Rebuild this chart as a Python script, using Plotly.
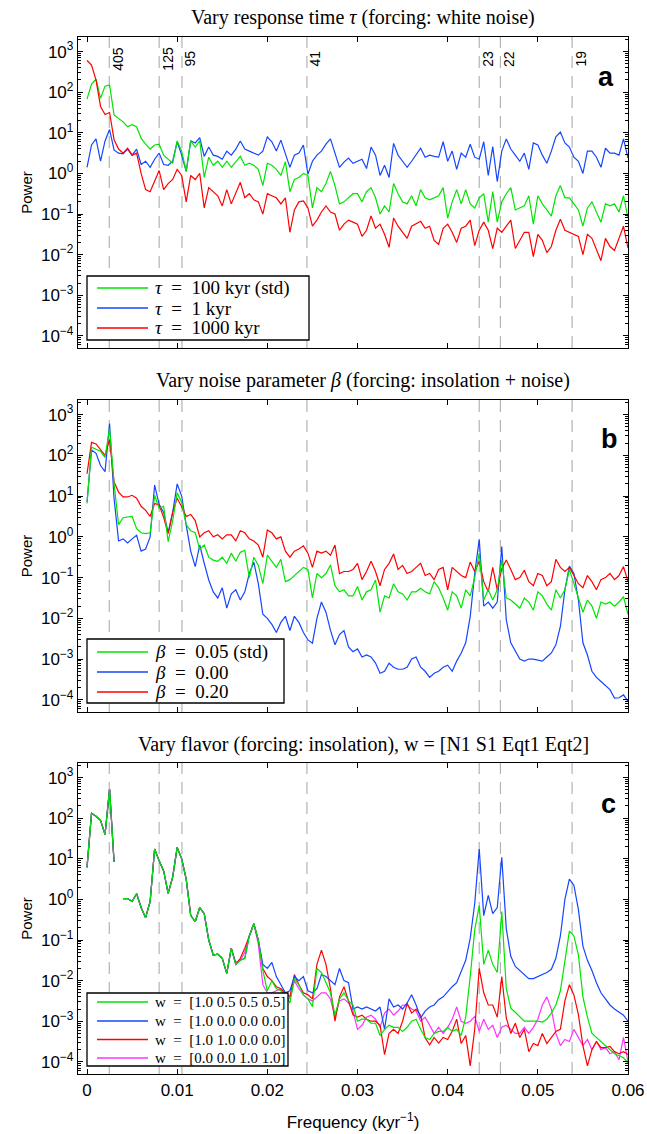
import plotly.graph_objects as go

# ---------------- data (log10 of power) ----------------
FREQ = [
    0.0000, 0.0005, 0.0010, 0.0015, 0.0020, 0.0025, 0.0030, 0.0035, 0.0040, 0.0045,
    0.0050, 0.0055, 0.0060, 0.0065, 0.0070, 0.0075, 0.0080, 0.0085, 0.0090, 0.0095,
    0.0100, 0.0105, 0.0110, 0.0115, 0.0120, 0.0125, 0.0130, 0.0135, 0.0140, 0.0145,
    0.0150, 0.0155, 0.0160, 0.0165, 0.0170, 0.0175, 0.0180, 0.0185, 0.0190, 0.0195,
    0.0200, 0.0205, 0.0210, 0.0215, 0.0220, 0.0225, 0.0230, 0.0235, 0.0240, 0.0245,
    0.0250, 0.0255, 0.0260, 0.0265, 0.0270, 0.0275, 0.0280, 0.0285, 0.0290, 0.0295,
    0.0300, 0.0305, 0.0310, 0.0315, 0.0320, 0.0325, 0.0330, 0.0335, 0.0340, 0.0345,
    0.0350, 0.0355, 0.0360, 0.0365, 0.0370, 0.0375, 0.0380, 0.0385, 0.0390, 0.0395,
    0.0400, 0.0405, 0.0410, 0.0415, 0.0420, 0.0425, 0.0430, 0.0435, 0.0440, 0.0445,
    0.0450, 0.0455, 0.0460, 0.0465, 0.0470, 0.0475, 0.0480, 0.0485, 0.0490, 0.0495,
    0.0500, 0.0505, 0.0510, 0.0515, 0.0520, 0.0525, 0.0530, 0.0535, 0.0540, 0.0545,
    0.0550, 0.0555, 0.0560, 0.0565, 0.0570, 0.0575, 0.0580, 0.0585, 0.0590, 0.0595,
    0.0600,
]

# Panel a: vary response time tau (forcing: white noise)
LOG_A_TAU100 = [
    1.83, 2.2, 2.32, 1.85, 2.15, 2.18, 1.44, 1.36, 1.27, 1.15,
    1.2, 1.15, 0.87, 0.72, 0.6, 0.7, 0.72, 0.45, 0.35, 0.25,
    0.8, 0.55, 0.05, 0.8, 0.65, 0.8, -0.1, 0.4, 0.2, 0.3,
    0.15, 0.3, 0.15, 0.3, 0.42, 0.2, 0.25, 0.2, 0.1, -0.3,
    0.25, 0.2, 0.1, -0.05, 0.29, -0.45, -0.15, -0.1, 0.0, -0.05,
    -0.85, -0.35, -0.45, -0.25, 0.05, -0.3, -0.75, -0.7, -0.6, -0.5,
    -0.5, -0.7, -0.45, -0.35, -0.6, -1.0, -0.8, -0.95, -0.25, -0.5,
    -0.7, -0.75, -0.55, -0.8, -0.4, -0.6, -0.65, -0.6, -0.55, -0.35,
    -1.1, -0.7, -0.4, -0.75, -0.4, -0.75, -0.85, -0.6, -0.5, -1.2,
    -0.45, -1.2, -0.7, -0.5, -0.35, -0.9, -0.85, -0.8, -0.55, -1.25,
    -0.55, -0.75, -0.9, -1.05, -0.55, -0.3, -0.6, -0.6, -0.75, -0.9,
    -1.3, -0.85, -0.7, -0.95, -1.2, -0.75, -0.8, -0.75, -0.95, -0.55,
    -1.1,
]
LOG_A_TAU1 = [
    0.15, 0.7, 0.85, 0.3, 0.8, 1.08, 0.58, 0.5, 0.48, 0.6,
    0.45, 0.6, 0.22, 0.3, 0.15, 0.35, 0.5, 0.22, 0.2, 0.3,
    0.78, 0.45, 0.05, 0.8, 0.75, 0.88, 0.42, 0.65, 0.45, 0.42,
    0.35, 0.55, 0.45, 0.6, 0.8, 0.6, 0.55, 0.5, 0.45, 0.55,
    0.9, 0.78, 0.55, 0.82, 0.5, 0.15, 0.45, 0.5, 0.7, -0.02,
    0.3, 0.45, 0.55, 0.72, 0.85, 0.5, 0.15, 0.28, 0.38, 0.25,
    0.3, 0.35, 0.12, 0.65, 0.45, -0.05, 0.2, -0.1, 0.74, 0.45,
    0.3, 0.15, 0.3, 0.45, 0.62, 0.4, 0.45, 0.42, 0.4, 0.78,
    0.3, 0.55, 0.1, 0.5, 0.4, 0.72, 0.4, 0.35, 0.78, -0.05,
    0.66, -0.2, 0.55, 0.85, 0.6, 0.45, 0.3, 0.5, 0.1, 0.75,
    0.7, 0.45, 0.25, 0.55, 0.9, 1.02, 0.75, 0.65, 0.4, 0.3,
    0.0, 0.55, 0.55, 0.4, 0.15, 0.62, 0.5, 0.5, 0.45, 0.85,
    0.38,
]
LOG_A_TAU1000 = [
    2.78, 2.67, 2.3, 1.65, 1.45, 1.5, 0.83, 0.6, 0.5, 0.62,
    0.45, 0.5, 0.0, -0.4, -0.45, -0.2, 0.07, -0.4, -0.25, -0.15,
    0.1, -0.05, -0.7, -0.05, -0.15, 0.0, -0.85, -0.35, -0.45, -0.55,
    -0.8, -0.4, -0.75, -0.5, -0.22, -0.6, -0.5, -0.65, -0.7, -1.0,
    -0.5, -0.55, -0.6, -0.75, -0.6, -1.45, -0.9, -0.7, -0.68, -0.85,
    -1.3, -1.15, -0.95, -0.8, -0.95, -1.0, -1.4, -1.25, -1.15, -1.2,
    -1.25, -1.55, -1.4, -1.05, -1.35, -1.25, -1.5, -1.82, -1.1, -1.3,
    -1.45, -1.6, -1.3, -1.25, -1.18, -1.35, -1.3, -1.65, -1.75, -1.35,
    -1.25, -1.45, -1.7, -1.35, -1.3, -1.15, -1.78, -1.4, -1.2, -1.4,
    -1.85, -1.35, -1.45, -1.3, -1.15, -1.85, -1.65, -1.45, -1.45, -2.05,
    -1.5, -1.65, -1.95, -1.8, -1.4, -1.13, -1.4, -1.45, -1.5, -1.55,
    -2.0, -1.5, -1.6, -1.9, -2.15, -1.6, -1.8, -1.9, -1.6, -1.3,
    -1.84,
]

# Panel b: vary noise parameter beta (forcing: insolation + noise)
LOG_B_BETA005 = [
    0.82, 2.2, 2.15, 2.1, 1.95, 2.66, 1.31, 0.3, 0.47, 0.48,
    0.5, 0.2, 0.1, 0.08, 0.1, 1.02, 0.7, 0.75, -0.12, 0.4,
    1.08, 0.85, 0.3, 0.15, 0.1, -0.3, -0.2, -0.5, -0.57, -0.6,
    -0.5, -0.65, -0.4, -0.6, -0.38, -0.33, -1.0, -0.5, -0.7, -1.15,
    -0.45, -0.6, -0.75, -0.55, -1.1, -1.05, -0.95, -0.85, -0.75, -0.8,
    -1.5, -0.9, -1.0, -0.9, -0.69, -1.2, -1.35, -1.3, -1.45, -1.45,
    -1.22, -1.55, -1.35, -1.3, -1.06, -1.85, -1.45, -1.5, -1.15, -1.35,
    -1.4, -1.55, -1.35, -1.35, -1.26, -1.35, -1.4, -1.1, -1.25, -1.5,
    -1.8, -1.35, -1.45, -1.75, -1.3, -1.45, -1.0, -0.4, -1.55, -1.3,
    -1.55, -1.3, -0.57, -1.5, -1.55, -1.65, -1.75, -1.5, -1.6, -1.8,
    -1.35, -1.45, -1.65, -1.8, -1.3, -1.5, -1.3, -0.8, -1.15, -1.5,
    -1.85, -1.55, -1.7, -2.0, -1.6, -1.65, -1.6, -1.7, -1.6, -1.47,
    -1.9,
]
LOG_B_BETA000 = [
    0.86, 2.13, 2.05, 1.75, 1.6, 2.78, 0.94, -0.1, -0.05, -0.15,
    -0.05, 0.04, -0.35, -0.3, 0.0, 1.27, 0.8, 0.6, 0.1, 0.6,
    1.3, 1.0, 0.29, -0.35, -0.73, -0.2, -0.65, -1.06, -1.35, -1.5,
    -1.25, -1.75, -1.4, -1.3, -1.55, -1.35, -0.9, -0.62, -1.15, -1.9,
    -2.0, -2.15, -2.35, -2.1, -1.95, -2.3, -1.95, -2.1, -2.35, -2.53,
    -2.61, -2.0, -1.6, -1.85, -2.29, -2.65, -2.4, -2.3, -2.7, -2.82,
    -2.75, -2.95, -2.9, -2.95, -3.1, -3.35, -3.3, -3.1, -3.2, -3.25,
    -3.25, -3.2, -3.0, -2.95, -3.2, -3.3, -3.45, -3.35, -3.3, -3.2,
    -3.15, -3.3, -3.05, -2.85, -2.6, -1.96, -0.9, -0.06, -1.7, -1.6,
    -1.75, -1.6, -0.24, -2.04, -2.6, -2.8, -3.0, -3.05, -3.0, -3.0,
    -3.02, -3.05, -2.95, -2.85, -2.65, -2.2, -1.3, -0.72, -0.9, -1.55,
    -2.6, -2.9, -3.3, -3.45, -3.55, -3.65, -3.75, -3.96, -3.95, -3.88,
    -4.04,
]
LOG_B_BETA020 = [
    1.55, 2.32, 2.28, 2.15, 2.0, 2.39, 1.35, 1.1, 0.98, 0.98,
    1.02, 0.95, 0.75, 0.65, 0.5, 0.82, 0.78, 0.48, 0.08, 0.6,
    0.95, 0.74, 0.5, 0.55, 0.4, 0.0, 0.1, 0.15, 0.0, 0.05,
    -0.05, 0.05, 0.05, -0.1, 0.15, 0.1, -0.05, -0.1, -0.2, -0.5,
    0.17, 0.1, -0.05, 0.0, -0.35, -0.5, -0.35, -0.3, -0.22, -0.4,
    -0.75, -0.35, -0.4, -0.35, -0.45, -0.2, -0.9, -0.85, -0.85, -0.8,
    -0.65, -1.05, -0.85, -0.6, -0.85, -1.2, -0.8, -0.65, -0.42, -0.8,
    -0.7, -0.9, -0.85, -0.75, -0.65, -0.95, -0.9, -1.05, -0.8, -0.75,
    -1.3, -0.75, -0.85, -0.95, -1.0, -0.62, -0.85, -0.6, -1.1, -1.35,
    -0.75, -1.3, -0.78, -0.57, -0.8, -1.05, -1.0, -0.82, -1.1, -1.2,
    -0.9, -0.95, -1.2, -1.1, -0.55, -0.75, -0.85, -0.75, -0.95, -1.15,
    -1.25, -0.95, -1.1, -1.3, -1.05, -1.0, -0.9, -1.05, -0.95, -0.73,
    -1.1,
]

# Panel c: vary flavor (forcing: insolation); all four coincide below 0.0165
LOG_C_COMMON_LOW = [
    0.79, 2.12, 2.05, 1.95, 1.6, 2.72, 0.92, None, 0.02, 0.02,
    -0.05, 0.14, -0.2, -0.45, -0.05, 1.24, 0.95, 0.7, 0.15, 0.55,
    1.28, 1.0, 0.5, -0.39, -0.55, -0.2, -0.35, -1.0, -1.37, -1.35,
    -1.45, -1.82, -1.2,
]
LOG_C_W_STD_HIGH = [
    -1.6, -1.5, -1.45, -0.9, -0.6, -1.0, -1.75,
    -2.25, -2.0, -2.2, -2.25, -2.35, -2.55, -1.95, -2.1, -2.35, -2.45,
    -2.64, -1.7, -1.8, -2.05, -2.3, -2.85, -2.45, -2.3, -2.5, -2.6,
    -3.0, -2.95, -2.95, -3.05, -3.05, -3.35, -3.2, -3.1, -3.15, -3.15,
    -3.25, -3.15, -3.0, -2.95, -3.2, -3.4, -3.45, -3.3, -3.25, -3.25,
    -3.15, -3.25, -3.2, -3.35, -2.9, -1.9, -0.75, -0.15, -1.6, -1.25,
    -1.6, -1.8, -0.3, -2.2, -2.68, -2.78, -2.9, -3.0, -3.0, -3.0,
    -3.0, -3.02, -2.95, -2.8, -2.6, -2.25, -1.5, -0.78, -0.9, -1.37,
    -2.4, -2.9, -3.3, -3.4, -3.5, -3.6, -3.72, -3.8, -3.85, -3.9,
    -4.03,
]
LOG_C_W_N1_HIGH = [
    -1.6, -1.5, -1.45, -0.9, -0.6, -1.0, -1.6,
    -1.7, -1.55, -1.9, -2.1, -2.3, -2.25, -1.9, -2.0, -1.9, -2.25,
    -2.3, -2.2, -1.85, -1.9, -2.0, -2.1, -1.7, -2.0, -2.05, -2.7,
    -2.65, -2.7, -2.65, -2.7, -2.75, -2.65, -3.2, -2.45, -2.65, -2.6,
    -2.7, -2.55, -2.35, -2.6, -2.92, -2.75, -2.65, -2.6, -2.47, -2.4,
    -2.27, -2.15, -2.05, -1.75, -1.5, -0.96, -0.1, 1.24, -0.4, 0.1,
    -0.35, -0.2, 1.04, -0.72, -1.4, -1.65, -1.75, -1.85, -1.95, -1.95,
    -1.9, -1.85, -1.8, -1.72, -1.45, -0.9, 0.0, 0.5, 0.35, -0.25,
    -1.15, -1.5, -1.75, -2.05, -2.3, -2.45, -2.6, -2.7, -2.78, -2.85,
    -3.0,
]
LOG_C_W_N1S1_HIGH = [
    -1.6, -1.45, -1.2, -0.9, -0.6, -1.0, -1.7,
    -1.9, -2.0, -2.15, -2.2, -2.3, -2.4, -1.85, -2.1, -2.3, -2.35,
    -2.45, -1.6, -1.25, -1.6, -2.2, -3.0, -2.4, -2.15, -2.5, -2.84,
    -2.9, -2.85, -2.95, -3.0, -3.0, -3.1, -3.82, -3.3, -3.2, -3.3,
    -3.0, -2.56, -2.8, -2.7, -2.85, -3.41, -3.58, -3.4, -3.54, -3.4,
    -3.45, -3.25, -2.95, -3.55, -3.35, -4.1, -3.2, -1.7, -2.3, -2.6,
    -2.6, -2.9, -1.9, -2.92, -3.3, -3.05, -3.4, -3.2, -3.75, -3.55,
    -3.6, -3.3, -3.55, -3.4, -3.25, -3.2, -2.5, -2.1, -2.35, -2.84,
    -3.6, -4.1, -3.7, -3.5, -3.65, -3.65, -3.62, -3.75, -3.8, -3.75,
    -3.82,
]
LOG_C_W_EQT_HIGH = [
    -1.55, -1.5, -1.3, -0.9, -0.6, -1.1, -2.1,
    -2.3, -2.3, -2.25, -2.2, -2.4, -2.45, -2.0, -2.2, -2.35, -2.45,
    -2.5, -2.4, -2.3, -2.3, -2.45, -2.9, -2.5, -2.45, -2.55, -2.75,
    -3.2, -3.1, -2.9, -2.85, -2.95, -3.15, -2.8, -2.7, -2.85, -2.75,
    -2.6, -2.6, -2.7, -2.75, -3.0, -2.9, -3.1, -3.3, -3.15, -3.3,
    -3.15, -2.95, -2.65, -3.0, -3.05, -3.0, -2.88, -3.25, -2.95, -3.2,
    -3.1, -3.4, -3.15, -3.1, -3.2, -3.3, -3.3, -3.15, -3.3, -3.15,
    -2.95, -2.6, -2.4, -2.7, -3.3, -3.6, -3.45, -3.5, -3.2, -3.4,
    -3.6, -3.45, -3.7, -3.5, -3.7, -3.65, -3.8, -3.75, -3.95, -3.4,
    -4.0,
]

PERIOD_LABELS = ["405", "125", "95", "41", "23", "22", "19"]
PERIOD_FREQ = [0.00247, 0.0080, 0.01053, 0.02439, 0.04350, 0.04585, 0.05380]

Y_TICK_EXP = [-4, -3, -2, -1, 0, 1, 2, 3]

GREEN, BLUE, RED, MAGENTA = "#00e400", "#1446ff", "#ff0000", "#ff33ff"

NAMES_A = ["<i>τ</i>\u2002=\u2002100 kyr (std)", "<i>τ</i>\u2002=\u20021 kyr",
           "<i>τ</i>\u2002=\u20021000 kyr"]
NAMES_B = ["<i>β</i>\u2002=\u20020.05 (std)", "<i>β</i>\u2002=\u20020.00",
           "<i>β</i>\u2002=\u20020.20"]
NAMES_C = ["w\u2002=\u2002[1.0 0.5 0.5 0.5]", "w\u2002=\u2002[1.0 0.0 0.0 0.0]",
           "w\u2002=\u2002[1.0 1.0 0.0 0.0]", "w\u2002=\u2002[0.0 0.0 1.0 1.0]"]

series_c = {
    "std": LOG_C_COMMON_LOW + LOG_C_W_STD_HIGH,
    "n1": LOG_C_COMMON_LOW + LOG_C_W_N1_HIGH,
    "n1s1": LOG_C_COMMON_LOW + LOG_C_W_N1S1_HIGH,
    "eqt": LOG_C_COMMON_LOW + LOG_C_W_EQT_HIGH,
}
for arr in [LOG_A_TAU100, LOG_A_TAU1, LOG_A_TAU1000, LOG_B_BETA005, LOG_B_BETA000,
            LOG_B_BETA020] + list(series_c.values()):
    assert len(arr) == len(FREQ), len(arr)


def power(logs):
    return [None if v is None else 10 ** v for v in logs]


# ---------------- geometry (pixels of the 647x1134 page) ----------------
W, H = 647, 1134
ML, MR, MT, MB = 78, 19, 37, 60
PW, PH = W - ML - MR, H - MT - MB


def px(x):
    return (x - ML) / PW


def py(y):
    return (H - MB - y) / PH


PANELS = [  # (top px, bottom px)
    (37, 348), (400, 712), (763, 1074)]

fig = go.Figure()

# draw order (last on top)
panel_traces = [
    [(LOG_A_TAU1, NAMES_A[1], BLUE), (LOG_A_TAU100, NAMES_A[0], GREEN),
     (LOG_A_TAU1000, NAMES_A[2], RED)],
    [(LOG_B_BETA000, NAMES_B[1], BLUE), (LOG_B_BETA020, NAMES_B[2], RED),
     (LOG_B_BETA005, NAMES_B[0], GREEN)],
    [(series_c["eqt"], NAMES_C[3], MAGENTA), (series_c["n1s1"], NAMES_C[2], RED),
     (series_c["n1"], NAMES_C[1], BLUE), (series_c["std"], NAMES_C[0], GREEN)],
]
for i, traces in enumerate(panel_traces):
    xa = "x" if i == 0 else f"x{i+1}"
    ya = "y" if i == 0 else f"y{i+1}"
    for logs, name, col in traces:
        fig.add_trace(go.Scatter(x=FREQ, y=power(logs), mode="lines", name=name,
                                 line=dict(color=col, width=1.2),
                                 xaxis=xa, yaxis=ya, showlegend=False,
                                 connectgaps=False))

axis_font = dict(family="Liberation Sans, Arial, sans-serif", size=16, color="black")
minor_vals = [m * 10 ** e for e in range(-5, 4) for m in range(2, 10)]
layout = dict(
    width=W, height=H, margin=dict(l=ML, r=MR, t=MT, b=MB, autoexpand=False),
    paper_bgcolor="white", plot_bgcolor="white", showlegend=False,
    font=axis_font,
)
for i, (top, bot) in enumerate(PANELS):
    sfx = "" if i == 0 else str(i + 1)
    layout["xaxis" + sfx] = dict(
        domain=[0, 1], anchor="y" + sfx, range=[-0.001, 0.06], tick0=0, dtick=0.01,
        ticks="inside", ticklen=5, tickwidth=1, tickcolor="black",
        showline=True, linecolor="black", linewidth=1.3, mirror="allticks",
        showgrid=False, zeroline=False, showticklabels=(i == 2),
        tickfont=dict(size=17), automargin=False,
    )
    if i > 0:
        layout["xaxis" + sfx]["matches"] = "x"
    layout["yaxis" + sfx] = dict(
        domain=[py(bot), py(top)], anchor="x" + sfx, type="log", range=[-4.3, 3.36],
        tickmode="array", tickvals=[10 ** e for e in Y_TICK_EXP],
        ticktext=[("10<sup>%s</sup>" % (str(e) if e >= 0 else "−" + str(-e))) for e in Y_TICK_EXP],
        ticks="inside", ticklen=5, tickwidth=1, tickcolor="black",
        minor=dict(tickvals=minor_vals, ticks="inside", ticklen=3, tickcolor="black",
                   showgrid=False),
        showline=True, linecolor="black", linewidth=1.3, mirror="allticks",
        showgrid=False, zeroline=False, tickfont=dict(size=17), automargin=False,
        title=dict(text="Power", font=dict(size=15), standoff=4),
    )
layout["xaxis3"]["title"] = dict(text="Frequency (kyr<sup>−1</sup>)", font=dict(size=17),
                                 standoff=17)
fig.update_layout(**layout)

# dashed period lines
for i in range(3):
    sfx = "" if i == 0 else str(i + 1)
    for f in PERIOD_FREQ:
        fig.add_shape(type="line", xref="x" + sfx, yref=f"y{sfx} domain", x0=f, x1=f,
                      y0=0, y1=1, layer="below",
                      line=dict(color="#b4b4b4", width=1.2, dash="12px,8px"))

# period labels (panel a)
for lab, f in zip(PERIOD_LABELS, PERIOD_FREQ):
    fig.add_annotation(x=f, y=py(58.5), xref="x", yref="paper", text=lab,
                       textangle=-90, showarrow=False, xshift=9,
                       xanchor="center", yanchor="middle",
                       font=dict(size=14, family="Liberation Sans, Arial"))

# panel titles
serif = "Liberation Serif, Times New Roman, serif"
TITLES = ["Vary response time <i>τ</i> (forcing: white noise)",
          "Vary noise parameter <i>β</i> (forcing: insolation + noise)",
          "Vary flavor (forcing: insolation), w = [N1 S1 Eqt1 Eqt2]"]
for t, ypx in zip(TITLES, [18, 381, 744]):
    fig.add_annotation(x=px(363), y=py(ypx), xref="paper", yref="paper", text=t,
                       showarrow=False, xanchor="center", yanchor="middle",
                       font=dict(size=20, family=serif))

# panel letters
for lab, (xl, yl) in zip(["a", "b", "c"], [(606, 77), (609, 439), (608, 804)]):
    fig.add_annotation(x=px(xl), y=py(yl), xref="paper", yref="paper",
                       text="<b>%s</b>" % lab, showarrow=False, xanchor="center",
                       yanchor="middle", font=dict(size=27, family="Liberation Sans, Arial"))

# legends (box, sample lines, labels)
LEGENDS = [
    dict(box=(87, 276, 309, 340), ys=[288, 308, 328], names=NAMES_A,
         colors=[GREEN, BLUE, RED], size=19),
    dict(box=(87, 639, 284, 703), ys=[652, 672, 692], names=NAMES_B,
         colors=[GREEN, BLUE, RED], size=19),
    dict(box=(87, 993, 288, 1066), ys=[1002, 1021, 1039.5, 1058], names=NAMES_C,
         colors=[GREEN, BLUE, RED, MAGENTA], size=15),
]
for lg in LEGENDS:
    x0, y0, x1, y1 = lg["box"]
    fig.add_shape(type="rect", xref="paper", yref="paper", x0=px(x0), x1=px(x1),
                  y0=py(y1), y1=py(y0), line=dict(color="black", width=1.3),
                  fillcolor="white", layer="above")
    for yy, name, col in zip(lg["ys"], lg["names"], lg["colors"]):
        fig.add_shape(type="line", xref="paper", yref="paper", x0=px(97), x1=px(148),
                      y0=py(yy), y1=py(yy), line=dict(color=col, width=1.3), layer="above")
        fig.add_annotation(x=px(153), y=py(yy), xref="paper", yref="paper", text=name,
                           showarrow=False, xanchor="left", yanchor="middle",
                           font=dict(size=lg["size"], family=serif))

# remove the browser's default 8px page margin so the figure fills the window exactly
fig.write_html("out.html", config={"displayModeBar": False},
               post_script="document.body.style.margin='0';document.body.style.overflow='hidden';")
